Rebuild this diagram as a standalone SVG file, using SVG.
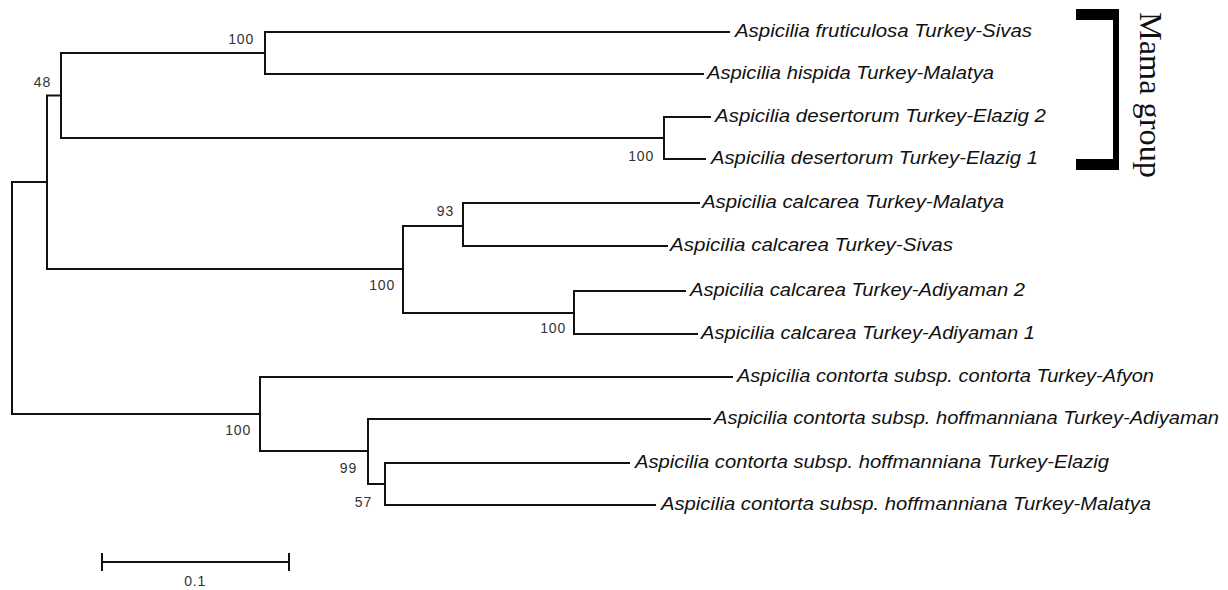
<svg xmlns="http://www.w3.org/2000/svg" width="1228" height="590" viewBox="0 0 1228 590">
<style>
.br{fill:none;stroke:#111;stroke-width:2;stroke-linejoin:miter;stroke-linecap:square}
.lf{font-family:"Liberation Sans",Arial,sans-serif;font-style:italic;font-size:18.5px;fill:#111}
.bs{font-family:"Liberation Sans",Arial,sans-serif;font-size:14px;fill:#333;text-anchor:end;letter-spacing:0.8px}
.gp{font-family:"Liberation Serif","Times New Roman",serif;font-size:31px;fill:#111}
</style>
<rect width="1228" height="590" fill="#fff"/>
<g id="connectors" class="br">
<path d="M729 32H265V74H703"/>
<path d="M710 117H664V159H705"/>
<path d="M265 53H61V138H664"/>
<path d="M61 95.5H47V269H403"/>
<path d="M699 203H463V246H667"/>
<path d="M685 291H574V334H697"/>
<path d="M463 226H403V313H574"/>
<path d="M47 182H12V414H260"/>
<path d="M732 377H260V451H368"/>
<path d="M710 419H368V484H385"/>
<path d="M629 463H385V505H655"/>
</g>
<g id="leaves">
<g id="leaf1"><text class="lf" x="735" y="37" textLength="297" lengthAdjust="spacingAndGlyphs">Aspicilia fruticulosa Turkey-Sivas</text></g>
<g id="leaf2"><text class="lf" x="707" y="79" textLength="287" lengthAdjust="spacingAndGlyphs">Aspicilia hispida Turkey-Malatya</text></g>
<g id="leaf3"><text class="lf" x="715" y="122" textLength="331" lengthAdjust="spacingAndGlyphs">Aspicilia desertorum Turkey-Elazig 2</text></g>
<g id="leaf4"><text class="lf" x="711" y="164" textLength="327" lengthAdjust="spacingAndGlyphs">Aspicilia desertorum Turkey-Elazig 1</text></g>
<g id="leaf5"><text class="lf" x="702" y="208" textLength="302" lengthAdjust="spacingAndGlyphs">Aspicilia calcarea Turkey-Malatya</text></g>
<g id="leaf6"><text class="lf" x="670" y="251" textLength="283" lengthAdjust="spacingAndGlyphs">Aspicilia calcarea Turkey-Sivas</text></g>
<g id="leaf7"><text class="lf" x="690" y="296" textLength="335" lengthAdjust="spacingAndGlyphs">Aspicilia calcarea Turkey-Adiyaman 2</text></g>
<g id="leaf8"><text class="lf" x="701" y="339" textLength="334" lengthAdjust="spacingAndGlyphs">Aspicilia calcarea Turkey-Adiyaman 1</text></g>
<g id="leaf9"><text class="lf" x="737" y="382" textLength="417" lengthAdjust="spacingAndGlyphs">Aspicilia contorta subsp. contorta Turkey-Afyon</text></g>
<g id="leaf10"><text class="lf" x="714" y="424" textLength="505" lengthAdjust="spacingAndGlyphs">Aspicilia contorta subsp. hoffmanniana Turkey-Adiyaman</text></g>
<g id="leaf11"><text class="lf" x="635" y="468" textLength="474" lengthAdjust="spacingAndGlyphs">Aspicilia contorta subsp. hoffmanniana Turkey-Elazig</text></g>
<g id="leaf12"><text class="lf" x="661" y="510" textLength="490" lengthAdjust="spacingAndGlyphs">Aspicilia contorta subsp. hoffmanniana Turkey-Malatya</text></g>
</g>
<g id="bootstrap">
<text class="bs" x="254" y="44">100</text>
<text class="bs" x="51" y="87">48</text>
<text class="bs" x="654" y="161">100</text>
<text class="bs" x="454" y="216">93</text>
<text class="bs" x="395" y="290">100</text>
<text class="bs" x="566" y="333">100</text>
<text class="bs" x="251" y="435">100</text>
<text class="bs" x="357" y="473">99</text>
<text class="bs" x="372" y="507">57</text>
</g>
<g id="mama-group">
<path d="M1076 9H1119V170H1076V159H1113V20H1076Z" fill="#000"/>
<text class="gp" transform="translate(1140 12) rotate(90)" x="0" y="0" textLength="166" lengthAdjust="spacingAndGlyphs">Mama group</text>
</g>
<g id="scale-bar">
<path class="br" d="M102 562H289M102 554V570M289 554V570"/>
<text class="bs" x="206" y="586" style="text-anchor:end">0.1</text>
</g>
</svg>
